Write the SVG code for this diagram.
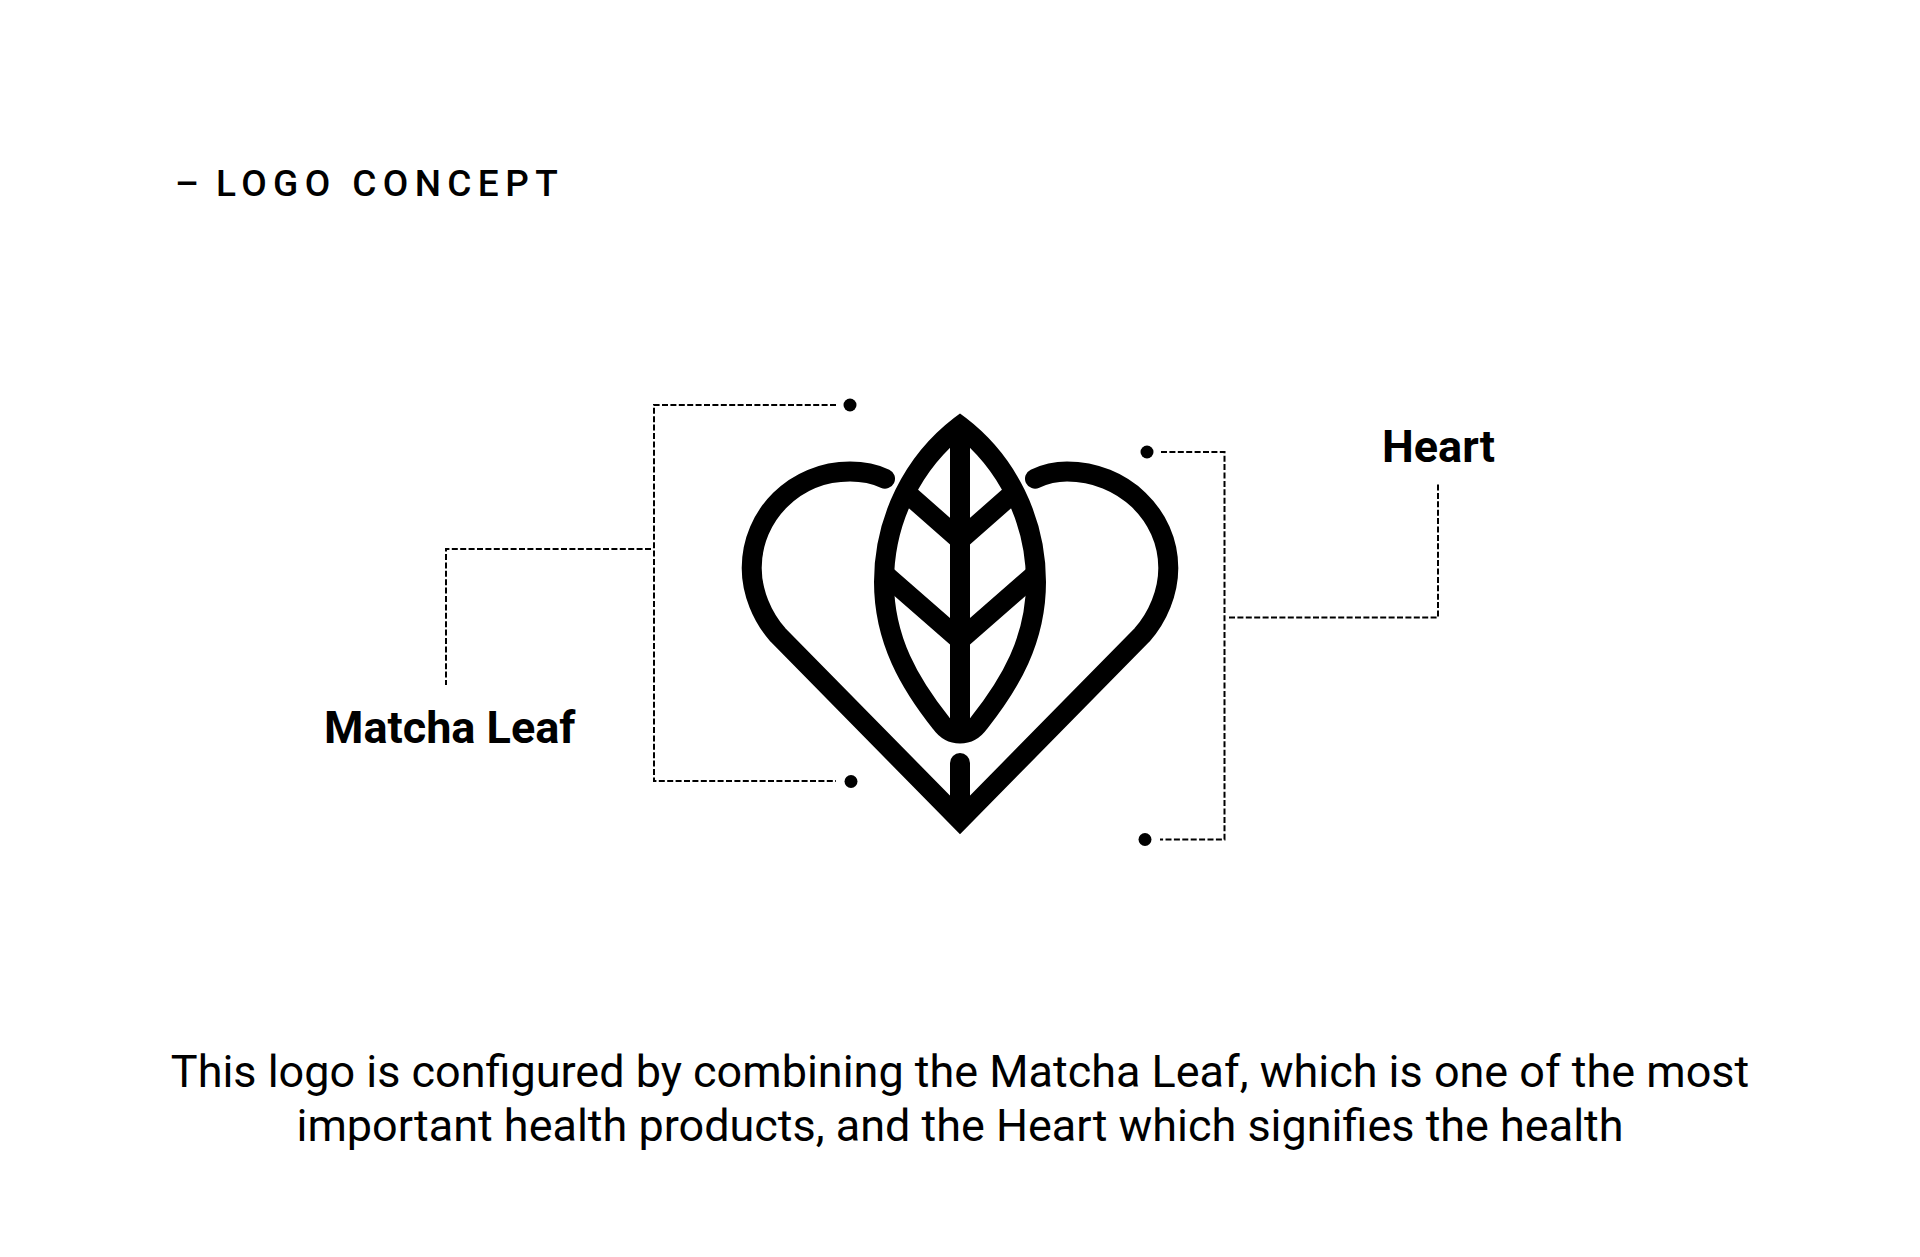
<svg xmlns="http://www.w3.org/2000/svg" width="1920" height="1257" viewBox="0 0 1920 1257">
<style>
text{font-family:Roboto,"Liberation Sans",sans-serif;fill:#000}
.title{font-size:37px;font-weight:500;letter-spacing:6.4px}
.label{font-size:45px;font-weight:700}
.body{font-size:44.96px;font-weight:400;text-anchor:middle}
.logo{fill:none;stroke:#000;stroke-width:20}
.dash{fill:none;stroke:#000;stroke-width:2;stroke-dasharray:6 2.4}
.dot{fill:#000}
</style>
<rect width="1920" height="1257" fill="#fff"/>
<g id="title"><text class="title" x="175" y="196">–</text><text class="title" x="216" y="196">LOGO CONCEPT</text></g>
<g id="connectors">
<path class="dash" d="M836 405H654V781H836"/>
<path class="dash" d="M651 549H446V685"/>
<path class="dash" d="M1161 452H1224.500V839.500H1160"/>
<path class="dash" d="M1229 617.500H1438V483"/>
</g>
<g id="heart">
<path class="logo" stroke-linecap="round" stroke-linejoin="miter" stroke-miterlimit="6" d="M885 478.700C873 473 861 471.500 850 471.500C795 471.500 751.700 515 751.700 568C751.700 592 762 617 778 635L960 820L1142 635C1158 617 1168.300 592 1168.300 568C1168.300 515 1123 471.500 1067 471.500C1057 471.500 1047 473 1035 478.700"/>
<path class="logo" stroke-linecap="round" d="M960 763V815"/>
</g>
<g id="leaf">
<path class="logo" stroke-linejoin="miter" stroke-miterlimit="6" d="M960 426C913 462 884 520 884 582C884 640 910 684 941 723C951 737 969 737 979 723C1010 684 1036 640 1036 582C1036 520 1007 462 960 426Z"/>
<path class="logo" d="M960 425V730"/>
<path class="logo" d="M905 491.500L960 540L1015 491.500"/>
<path class="logo" d="M885 574.500L960 640L1035 574.500"/>
</g>
<g id="callout-dots">
<circle class="dot" cx="850" cy="405" r="6.500"/>
<circle class="dot" cx="851" cy="781.500" r="6.500"/>
<circle class="dot" cx="1147" cy="452" r="6.500"/>
<circle class="dot" cx="1145" cy="839.500" r="6.500"/>
</g>
<g id="matcha-leaf-label"><text class="label" x="324" y="743">Matcha Leaf</text></g>
<g id="heart-label"><text class="label" x="1382" y="461.500">Heart</text></g>
<g id="caption">
<text class="body" x="960" y="1087">This logo is configured by combining the Matcha Leaf, which is one of the most</text>
<text class="body" x="960" y="1141">important health products, and the Heart which signifies the health</text>
</g>
</svg>
